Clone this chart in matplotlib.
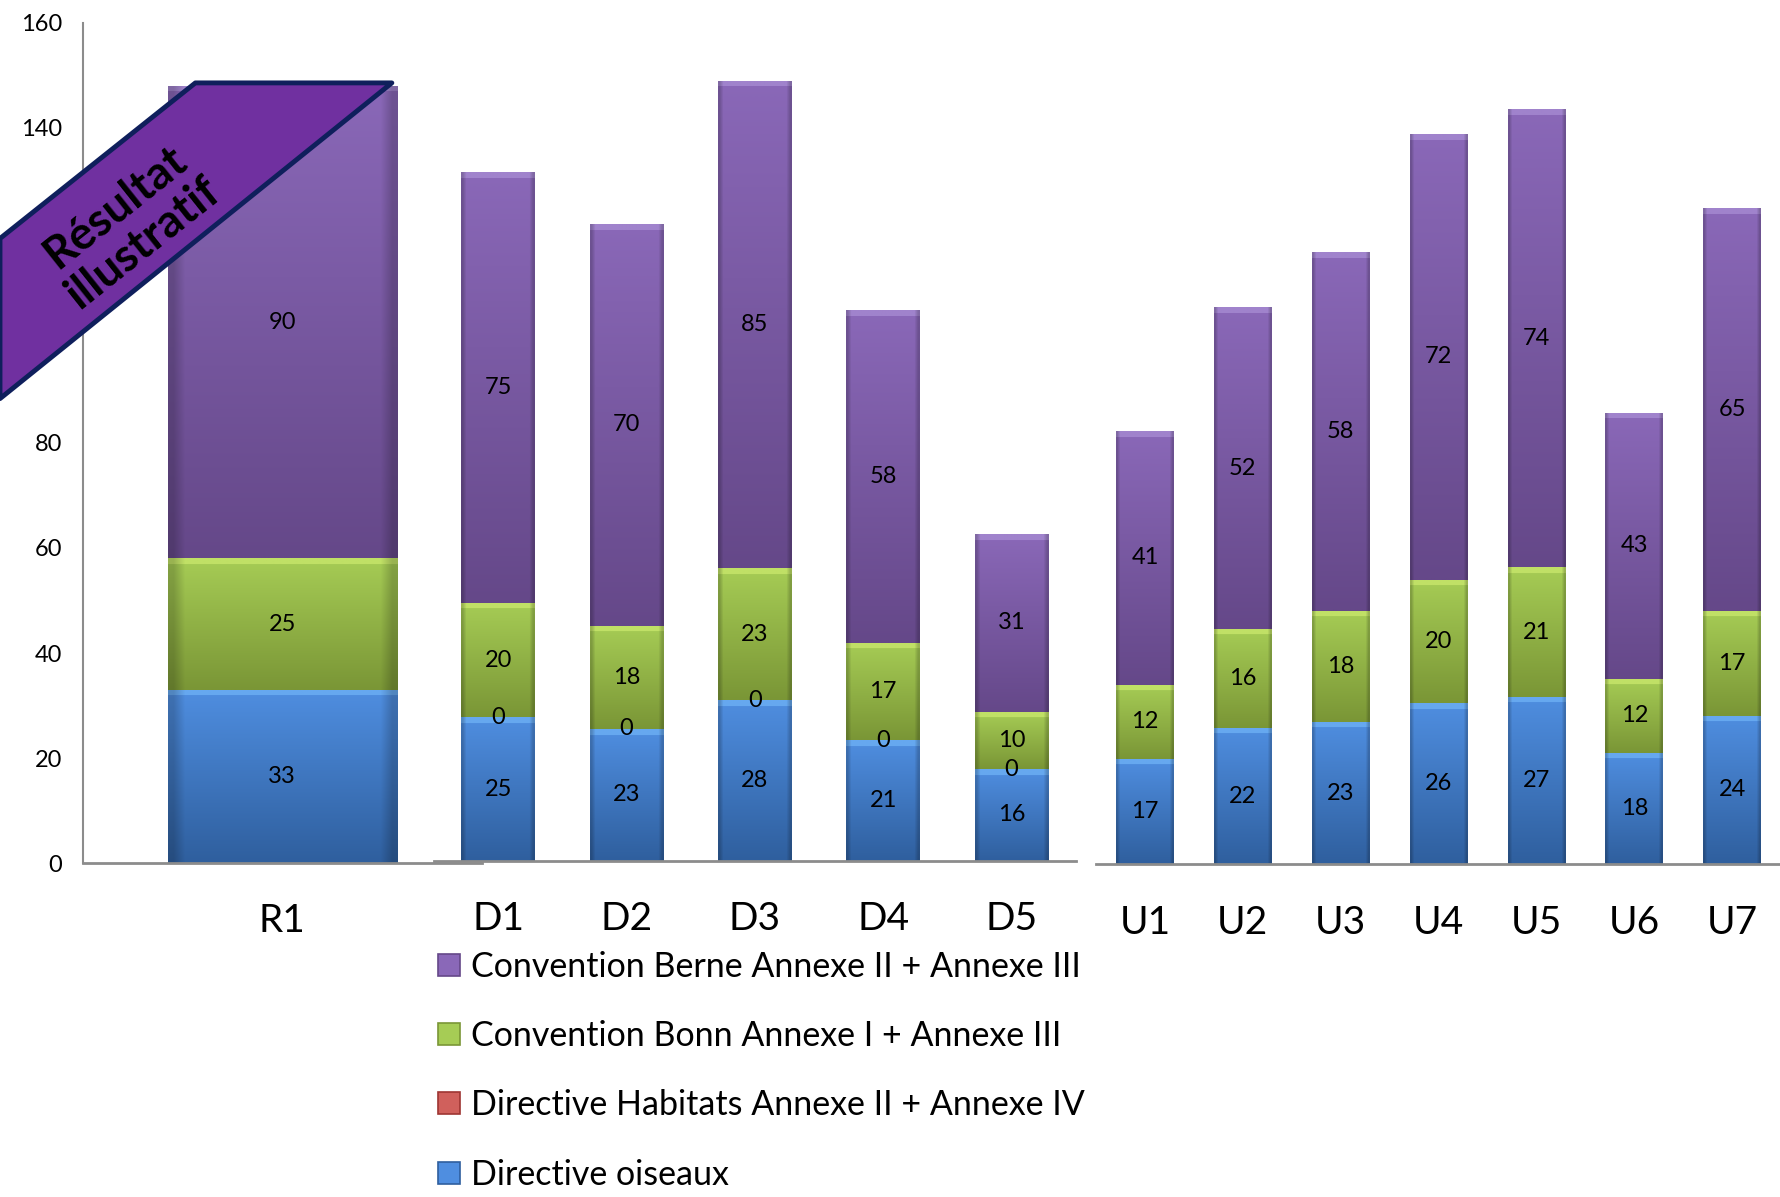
import numpy as np
import matplotlib
matplotlib.use("Agg")
import matplotlib.pyplot as plt
from matplotlib.colors import LinearSegmentedColormap, to_rgb
from matplotlib.patches import Patch, Polygon

plt.rcParams["font.family"] = ["Lato", "DejaVu Sans"]

# --- data -----------------------------------------------------------------
cats_r = ["R1"]
cats_d = ["D1", "D2", "D3", "D4", "D5"]
cats_u = ["U1", "U2", "U3", "U4", "U5", "U6", "U7"]

oiseaux_r = [33]
bonn_r = [25]
berne_r = [90]

oiseaux_d = [25, 23, 28, 21, 16]
habitats_d = [0, 0, 0, 0, 0]
bonn_d = [20, 18, 23, 17, 10]
berne_d = [75, 70, 85, 58, 31]

oiseaux_u = [17, 22, 23, 26, 27, 18, 24]
bonn_u = [12, 16, 18, 20, 21, 12, 17]
berne_u = [41, 52, 58, 72, 74, 43, 65]

yticks_r = [0, 20, 40, 60, 80, 100, 120, 140, 160]

series_names = ["Convention Berne Annexe II + Annexe III",
                "Convention Bonn Annexe I + Annexe III",
                "Directive Habitats Annexe II + Annexe IV",
                "Directive oiseaux"]

# colours: (top, bottom, highlight)
C_BLUE = ("#4f8ee0", "#2f5f9e", "#66a8ef")
C_RED = ("#d0605c", "#9e3532", "#e8807c")
C_GREEN = ("#a6cc55", "#7a9636", "#c0e066")
C_PURPLE = ("#8a68b8", "#654889", "#a083cc")
GRAY = "#8c8c8c"

W, H, DPI = 1781, 1197, 100
fig = plt.figure(figsize=(W / DPI, H / DPI), dpi=DPI)


def frac(px, py):
    # shrunk-reference pixel coords (1568x1054) -> figure fraction
    return px / 1568, 1 - py / 1054


def make_axes(x0, x1, ybot, ytop):
    l, b = frac(x0, ybot)
    r, t = frac(x1, ytop)
    ax = fig.add_axes([l, b, r - l, t - b])
    ax.set_facecolor("none")
    for s in ["top", "right"]:
        ax.spines[s].set_visible(False)
    ax.spines["bottom"].set_color(GRAY)
    ax.spines["bottom"].set_linewidth(2)
    ax.spines["left"].set_color(GRAY)
    ax.spines["left"].set_linewidth(1.5)
    ax.tick_params(axis="x", length=0, pad=29, labelsize=28)
    ax.tick_params(axis="y", length=0, pad=15, labelsize=17)
    return ax


def shade(ax, container, colors):
    top, bot, hi = colors
    cmap = LinearSegmentedColormap.from_list("g", [bot, top])
    for p in container.patches:
        x, y = p.get_x(), p.get_y()
        w, h = p.get_width(), p.get_height()
        if h <= 0:
            continue
        p0 = ax.transData.transform((x, y))
        p1 = ax.transData.transform((x + w, y + h))
        hpx = max(int(abs(p1[1] - p0[1])), 2)
        grad = np.linspace(1, 0, hpx)[:, None]
        rgb = cmap(grad)[:, :, :3]
        rgb = np.repeat(rgb, 20, axis=1)
        # bevel highlight at the top of the segment
        hl = min(6, hpx // 3)
        rgb[:hl, :, :] = to_rgb(hi)
        # darker side edges
        rgb[:, :1, :] *= 0.8
        rgb[:, -1:, :] *= 0.8
        im = ax.imshow(rgb, extent=(x, x + w, y, y + h), aspect="auto",
                       origin="upper", zorder=2, interpolation="bilinear")
        im.set_clip_path(p)


def stack(ax, cats, layers, width):
    xs = np.arange(len(cats))
    bottom = np.zeros(len(cats))
    for vals, colors, show in layers:
        vals = np.asarray(vals, dtype=float)
        bc = ax.bar(xs, vals, width, bottom=bottom, color=colors[0],
                    edgecolor="none", zorder=1)
        shade(ax, bc, colors)
        if show:
            for xi, b, v in zip(xs, bottom, vals):
                ax.text(xi, b + v / 2, f"{v:g}", ha="center", va="center",
                        fontsize=17, color="black", zorder=4)
        bottom += vals
    ax.set_xticks(xs)
    ax.set_xticklabels(cats)
    ax.set_xlim(-0.5, len(cats) - 0.5)


# R1 chart (has the y axis)
ax1 = make_axes(73, 424, 760, 20)
ax1.set_ylim(0, 160)
stack(ax1, cats_r, [(oiseaux_r, C_BLUE, True), (bonn_r, C_GREEN, True),
                    (berne_r, C_PURPLE, True)], 0.575)
ax1.set_yticks(yticks_r)

# D chart
ax2 = make_axes(382, 947, 758, 20)
ax2.set_ylim(0, 146.1)
ax2.spines["left"].set_visible(False)
ax2.set_yticks([])
stack(ax2, cats_d, [(oiseaux_d, C_BLUE, True), (habitats_d, C_RED, True),
                    (bonn_d, C_GREEN, True), (berne_d, C_PURPLE, True)], 0.575)

# U chart
ax3 = make_axes(965, 1568, 761, 20)
ax3.set_ylim(0, 136)
ax3.spines["left"].set_visible(False)
ax3.set_yticks([])
stack(ax3, cats_u, [(oiseaux_u, C_BLUE, True), (bonn_u, C_GREEN, True),
                    (berne_u, C_PURPLE, True)], 0.59)

# legend
handles = [Patch(facecolor=c[0], edgecolor=c[1], linewidth=1.2)
           for c in (C_PURPLE, C_GREEN, C_RED, C_BLUE)]
fig.legend(handles, series_names, loc="upper left",
           bbox_to_anchor=frac(386, 837), frameon=False, fontsize=24.5,
           borderpad=0, borderaxespad=0, handlelength=0.62, handleheight=0.62,
           handletextpad=0.35, labelspacing=1.1)

# "Résultat illustratif" ribbon
ribbon = [frac(0, 210), frac(172, 73), frac(345, 73), frac(0, 351)]
fig.patches.append(Polygon(ribbon, closed=True, transform=fig.transFigure,
                           facecolor="#7030a0", edgecolor="#0f1f5c",
                           linewidth=3.5, joinstyle="round", zorder=10))
tx, ty = frac(114, 198)
fig.text(tx, ty, "Résultat\nillustratif", rotation=38.5, ha="center",
         va="center", fontsize=33, fontweight="bold", color="black",
         linespacing=1.12, rotation_mode="anchor", zorder=11)

fig.savefig("out.png", dpi=DPI)
